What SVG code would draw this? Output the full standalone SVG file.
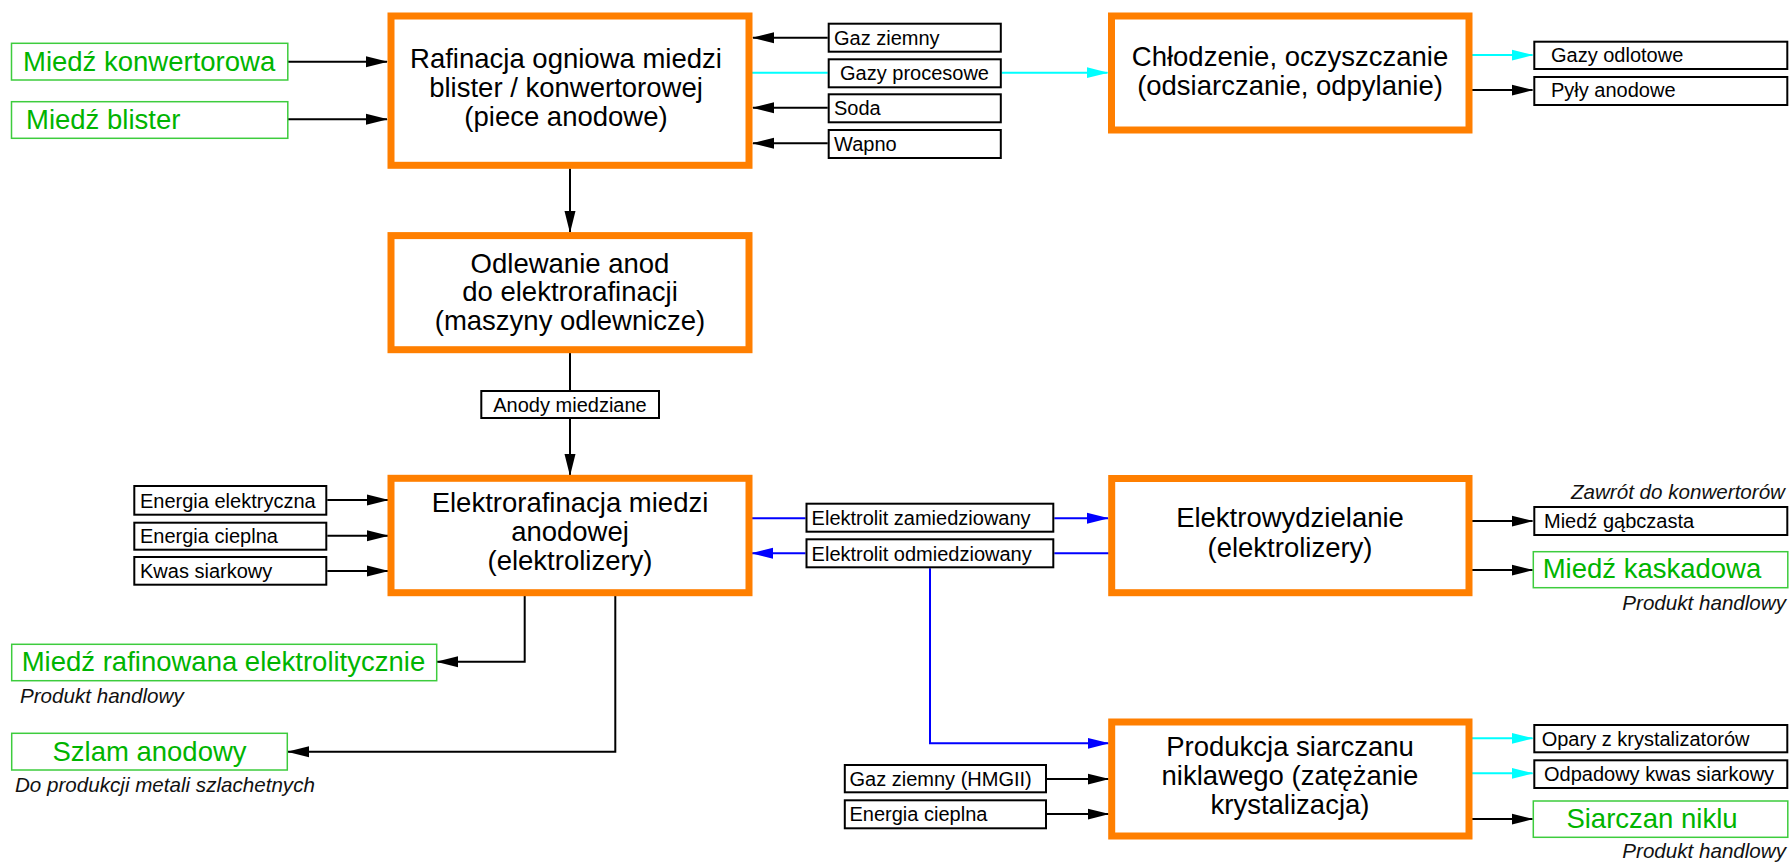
<svg xmlns="http://www.w3.org/2000/svg" width="1789" height="862" viewBox="0 0 1789 862">
<defs>
<style>
text{font-family:"Liberation Sans",Arial,sans-serif}
.proc{fill:#fff;stroke:#ff7f00;stroke-width:7}
.big{font-size:27.5px;fill:#000;text-anchor:middle}
.box{fill:#fff;stroke:#000;stroke-width:2}
.sm{font-size:20px;fill:#000}
.gbox{fill:#fff;stroke:#3dcc3d;stroke-width:1.5}
.gt{font-size:27.5px;fill:#00b400}
.it{font-size:20.6px;font-style:italic;fill:#111}
.k{stroke:#000;stroke-width:2;fill:none}
.b{stroke:#0000ff;stroke-width:2;fill:none}
.c{stroke:#00ffff;stroke-width:2;fill:none}
.mid{text-anchor:middle}
.end{text-anchor:end}
</style>
<marker id="ak" markerUnits="userSpaceOnUse" markerWidth="22" markerHeight="12" refX="21" refY="6" orient="auto"><path d="M0,0.5 L22,6 L0,11.5 z" fill="#000"/></marker>
<marker id="ab" markerUnits="userSpaceOnUse" markerWidth="22" markerHeight="12" refX="21" refY="6" orient="auto"><path d="M0,0.5 L22,6 L0,11.5 z" fill="#0000ff"/></marker>
<marker id="ac" markerUnits="userSpaceOnUse" markerWidth="22" markerHeight="12" refX="21" refY="6" orient="auto"><path d="M0,0.5 L22,6 L0,11.5 z" fill="#00ffff"/></marker>
</defs>
<rect width="1789" height="862" fill="#fff"/>

<g id="connectors">
<path class="k" d="M288,61.7 H387" marker-end="url(#ak)"/>
<path class="k" d="M288,119.3 H387" marker-end="url(#ak)"/>
<path class="k" d="M827.7,37.7 H753" marker-end="url(#ak)"/>
<path class="c" d="M749,72.7 H827.7"/>
<path class="c" d="M1001.8,72.7 H1107.5" marker-end="url(#ac)"/>
<path class="k" d="M827.7,107.7 H753" marker-end="url(#ak)"/>
<path class="k" d="M827.7,143.3 H753" marker-end="url(#ak)"/>
<path class="c" d="M1472,55 H1532.5" marker-end="url(#ac)"/>
<path class="k" d="M1472,90 H1532.5" marker-end="url(#ak)"/>
<path class="k" d="M570,168.5 V232" marker-end="url(#ak)"/>
<path class="k" d="M570,352.7 V390"/>
<path class="k" d="M570,419 V475" marker-end="url(#ak)"/>
<path class="k" d="M327.3,500 H388" marker-end="url(#ak)"/>
<path class="k" d="M327.3,535.7 H388" marker-end="url(#ak)"/>
<path class="k" d="M327.3,571 H388" marker-end="url(#ak)"/>
<path class="b" d="M749,518.3 H805.5"/>
<path class="b" d="M1054.3,518.3 H1108" marker-end="url(#ab)"/>
<path class="b" d="M1111,553.3 H1054.3"/>
<path class="b" d="M805.5,553.3 H752" marker-end="url(#ab)"/>
<path class="b" d="M930,568.3 V743.3 H1108.5" marker-end="url(#ab)"/>
<path class="k" d="M524.7,596 V661.7 H437" marker-end="url(#ak)"/>
<path class="k" d="M615.3,596 V751.7 H288" marker-end="url(#ak)"/>
<path class="k" d="M1472,521 H1532.5" marker-end="url(#ak)"/>
<path class="k" d="M1472,570 H1532.5" marker-end="url(#ak)"/>
<path class="k" d="M1047,779 H1108.5" marker-end="url(#ak)"/>
<path class="k" d="M1047,814 H1108.5" marker-end="url(#ak)"/>
<path class="c" d="M1468,738.3 H1532.5" marker-end="url(#ac)"/>
<path class="c" d="M1468,773.3 H1532.5" marker-end="url(#ac)"/>
<path class="k" d="M1468,819 H1532.5" marker-end="url(#ak)"/>
</g>

<g id="in-miedz-konwertorowa"><rect class="gbox" x="11.5" y="43.3" width="276.3" height="36.7"/><text class="gt" x="23" y="71">Miedź konwertorowa</text></g>
<g id="in-miedz-blister"><rect class="gbox" x="11.5" y="101.7" width="276.3" height="36.6"/><text class="gt" x="26" y="129.3">Miedź blister</text></g>

<g id="rafinacja"><rect class="proc" x="391" y="16" width="358" height="149.3"/>
<text class="big" x="566" y="68.3">Rafinacja ogniowa miedzi</text>
<text class="big" x="566" y="97">blister / konwertorowej</text>
<text class="big" x="566" y="125.5">(piece anodowe)</text></g>

<g id="gaz-ziemny"><rect class="box" x="828.7" y="23.7" width="172.1" height="28"/><text class="sm" x="834" y="44.7">Gaz ziemny</text></g>
<g id="gazy-procesowe"><rect class="box" x="828.7" y="59.3" width="172.1" height="28"/><text class="sm mid" x="914.5" y="80">Gazy procesowe</text></g>
<g id="soda"><rect class="box" x="828.7" y="94.3" width="172.1" height="28"/><text class="sm" x="834" y="115">Soda</text></g>
<g id="wapno"><rect class="box" x="828.7" y="130" width="172.1" height="28"/><text class="sm" x="834" y="150.5">Wapno</text></g>

<g id="chlodzenie"><rect class="proc" x="1111.5" y="16" width="357.5" height="114"/>
<text class="big" x="1290" y="65.5">Chłodzenie, oczyszczanie</text>
<text class="big" x="1290" y="95">(odsiarczanie, odpylanie)</text></g>

<g id="gazy-odlotowe"><rect class="box" x="1534.3" y="41.7" width="253" height="27.3"/><text class="sm" x="1551" y="62">Gazy odlotowe</text></g>
<g id="pyly-anodowe"><rect class="box" x="1534.3" y="77" width="253" height="28"/><text class="sm" x="1551" y="97">Pyły anodowe</text></g>

<g id="odlewanie"><rect class="proc" x="391" y="235.6" width="358" height="114.1"/>
<text class="big" x="570" y="272.7">Odlewanie anod</text>
<text class="big" x="570" y="301">do elektrorafinacji</text>
<text class="big" x="570" y="329.5">(maszyny odlewnicze)</text></g>

<g id="anody-miedziane"><rect class="box" x="481.3" y="391" width="177.7" height="27"/><text class="sm mid" x="570" y="411.5">Anody miedziane</text></g>

<g id="energia-elektryczna"><rect class="box" x="134.3" y="486" width="192" height="28.7"/><text class="sm" x="140" y="507.5">Energia elektryczna</text></g>
<g id="energia-cieplna-1"><rect class="box" x="134.3" y="522.7" width="192" height="27"/><text class="sm" x="140" y="543">Energia cieplna</text></g>
<g id="kwas-siarkowy"><rect class="box" x="134.3" y="557" width="192" height="27.7"/><text class="sm" x="140" y="578">Kwas siarkowy</text></g>

<g id="elektrorafinacja"><rect class="proc" x="391" y="478.3" width="358" height="114.4"/>
<text class="big" x="570" y="512.3">Elektrorafinacja miedzi</text>
<text class="big" x="570" y="541">anodowej</text>
<text class="big" x="570" y="570">(elektrolizery)</text></g>

<g id="elektrolit-zamiedziowany"><rect class="box" x="806.5" y="503.7" width="246.8" height="28"/><text class="sm" x="811.6" y="525">Elektrolit zamiedziowany</text></g>
<g id="elektrolit-odmiedziowany"><rect class="box" x="806.5" y="539.3" width="246.8" height="28"/><text class="sm" x="811.6" y="560.5">Elektrolit odmiedziowany</text></g>

<g id="elektrowydzielanie"><rect class="proc" x="1111.7" y="478.5" width="357.3" height="114.2"/>
<text class="big" x="1290" y="527.3">Elektrowydzielanie</text>
<text class="big" x="1290" y="557">(elektrolizery)</text></g>

<g id="zawrot-label"><text class="it end" x="1785" y="499.3">Zawrót do konwertorów</text></g>
<g id="miedz-gabczasta"><rect class="box" x="1534.3" y="507" width="253" height="28"/><text class="sm" x="1544" y="527.5">Miedź gąbczasta</text></g>
<g id="miedz-kaskadowa"><rect class="gbox" x="1533.3" y="551.7" width="254.5" height="36"/><text class="gt" x="1542.7" y="578">Miedź kaskadowa</text><text class="it end" x="1786" y="610">Produkt handlowy</text></g>

<g id="miedz-rafinowana"><rect class="gbox" x="11.7" y="644.3" width="425" height="36.4"/><text class="gt" x="21.7" y="671">Miedź rafinowana elektrolitycznie</text><text class="it" x="20" y="702.7">Produkt handlowy</text></g>
<g id="szlam-anodowy"><rect class="gbox" x="11.7" y="733.3" width="275.6" height="36.7"/><text class="gt mid" x="149.5" y="760.5">Szlam anodowy</text><text class="it" x="15" y="791.7">Do produkcji metali szlachetnych</text></g>

<g id="gaz-ziemny-hmgii"><rect class="box" x="844.8" y="765" width="201.2" height="27.3"/><text class="sm" x="849.5" y="786">Gaz ziemny (HMGII)</text></g>
<g id="energia-cieplna-2"><rect class="box" x="844.8" y="800.3" width="201.2" height="28"/><text class="sm" x="849.5" y="821">Energia cieplna</text></g>

<g id="produkcja-siarczanu"><rect class="proc" x="1111.7" y="722" width="357.3" height="114"/>
<text class="big" x="1290" y="756">Produkcja siarczanu</text>
<text class="big" x="1290" y="785">niklawego (zatężanie</text>
<text class="big" x="1290" y="813.5">krystalizacja)</text></g>

<g id="opary"><rect class="box" x="1534.3" y="725" width="253" height="27.3"/><text class="sm" x="1541.7" y="745.5">Opary z krystalizatorów</text></g>
<g id="odpadowy-kwas"><rect class="box" x="1534.3" y="760.3" width="253" height="27.7"/><text class="sm" x="1544" y="781">Odpadowy kwas siarkowy</text></g>
<g id="siarczan-niklu"><rect class="gbox" x="1533.3" y="801" width="254.5" height="36.3"/><text class="gt mid" x="1652" y="828">Siarczan niklu</text><text class="it end" x="1786" y="858">Produkt handlowy</text></g>
</svg>
